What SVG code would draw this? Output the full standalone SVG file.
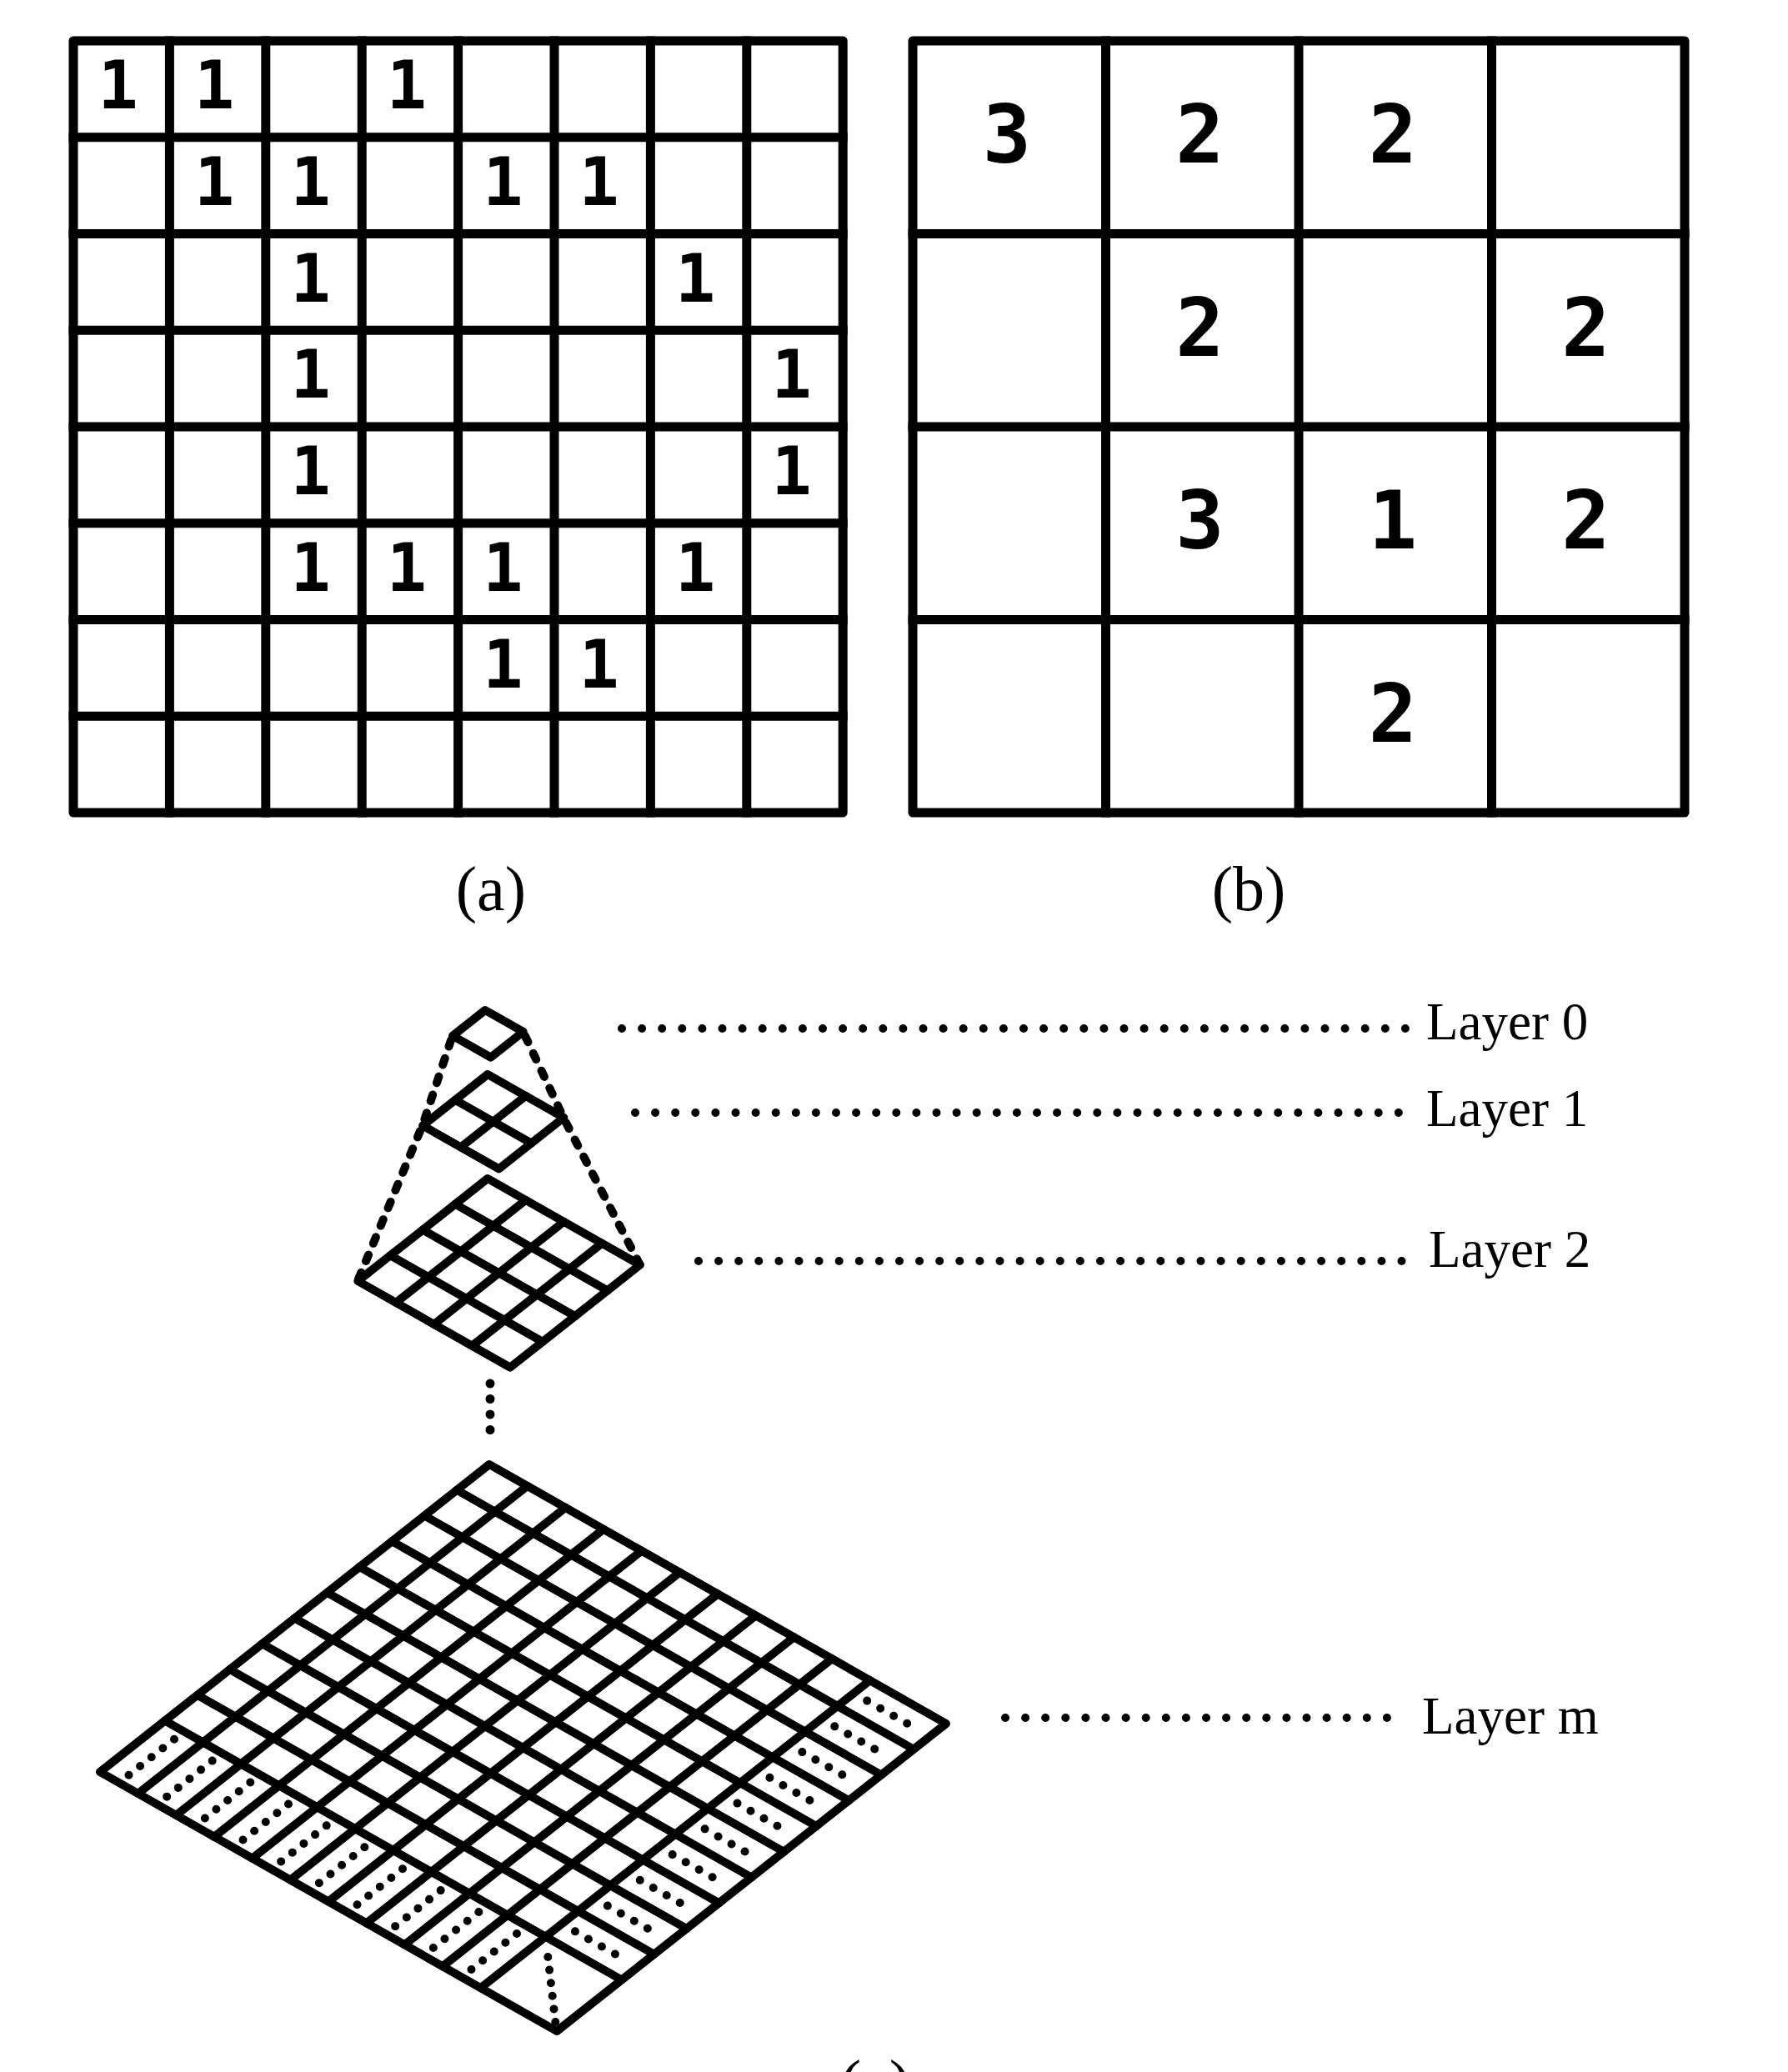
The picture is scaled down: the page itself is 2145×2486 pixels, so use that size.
<svg xmlns="http://www.w3.org/2000/svg" xmlns:xlink="http://www.w3.org/1999/xlink" width="2145" height="2486" viewBox="0 0 2145 2486">
<style>
.grid{fill:none;stroke:#000;stroke-width:11;stroke-linejoin:round;stroke-linecap:square}
.iso{fill:none;stroke:#000;stroke-width:10;stroke-linejoin:round;stroke-linecap:round}
.dig1{font-family:"DejaVu Sans Mono",monospace;font-weight:bold;font-size:80px;text-anchor:middle;fill:#000}
.dig2{font-family:"DejaVu Sans Mono",monospace;font-weight:bold;font-size:97px;text-anchor:middle;fill:#000}
.cap{font-family:"Liberation Serif","Times New Roman",serif;font-size:76px;text-anchor:middle;fill:#000}
.lbl{font-family:"Liberation Serif","Times New Roman",serif;font-size:63px;fill:#000}
.lead{fill:none;stroke:#000;stroke-width:10;stroke-linecap:round;stroke-dasharray:0 24.1}
.dash{fill:none;stroke:#000;stroke-width:10;stroke-linecap:round;stroke-dasharray:8 15}
.dotr{fill:none;stroke:#000;stroke-width:10;stroke-linecap:round;stroke-dasharray:0 18.38}
.dotl{fill:none;stroke:#000;stroke-width:10;stroke-linecap:round;stroke-dasharray:0 17.36}
.vdot{fill:none;stroke:#000;stroke-width:11;stroke-linecap:round;stroke-dasharray:0 18.5}
.cdot{fill:none;stroke:#000;stroke-width:10;stroke-linecap:round;stroke-dasharray:0 15.7}
</style>
<defs>
<line id="dr" class="dotr" x1="1040.19" y1="2040.62" x2="1104.13" y2="2076.9"/>
<line id="dl" class="dotl" x1="208.99" y1="2086.69" x2="154.5" y2="2129.74"/>
</defs>
<rect width="2145" height="2486" fill="#fff"/>

<g id="grid-a">
<rect class="grid" x="88" y="49" width="923.2" height="926"/>
<path class="grid" d="M203.4 49V975M318.8 49V975M434.2 49V975M549.6 49V975M665 49V975M780.4 49V975M895.8 49V975M88 164.75H1011.2M88 280.5H1011.2M88 396.25H1011.2M88 512H1011.2M88 627.75H1011.2M88 743.5H1011.2M88 859.25H1011.2"/>
<g class="dig1">
<text x="141.7" y="130">1</text><text x="257.1" y="130">1</text><text x="487.9" y="130">1</text>
<text x="257.1" y="245.75">1</text><text x="372.5" y="245.75">1</text><text x="603.3" y="245.75">1</text><text x="718.7" y="245.75">1</text>
<text x="372.5" y="361.5">1</text><text x="834.1" y="361.5">1</text>
<text x="372.5" y="477.25">1</text><text x="949.5" y="477.25">1</text>
<text x="372.5" y="593">1</text><text x="949.5" y="593">1</text>
<text x="372.5" y="708.75">1</text><text x="487.9" y="708.75">1</text><text x="603.3" y="708.75">1</text><text x="834.1" y="708.75">1</text>
<text x="603.3" y="824.5">1</text><text x="718.7" y="824.5">1</text>
</g>
</g>

<g id="grid-b">
<rect class="grid" x="1095" y="49" width="926" height="926"/>
<path class="grid" d="M1326.5 49V975M1558 49V975M1789.5 49V975M1095 280.5H2021M1095 512H2021M1095 743.5H2021"/>
<g class="dig2">
<text x="1208" y="195">3</text><text x="1439.5" y="195">2</text><text x="1671" y="195">2</text>
<text x="1439.5" y="426.5">2</text><text x="1902.5" y="426.5">2</text>
<text x="1439.5" y="658">3</text><text x="1671" y="658">1</text><text x="1902.5" y="658">2</text>
<text x="1671" y="889.5">2</text>
</g>
</g>

<text id="label-a" class="cap" x="589" y="1092">(a)</text>
<text id="label-b" class="cap" x="1498" y="1092">(b)</text>

<g id="layer-0">
<path class="iso" d="M582 1212L627.67 1237.92L588.75 1268.67L543.08 1242.75Z"/>
</g>
<g id="layer-1">
<path class="iso" d="M585 1289L676.33 1340.83L598.5 1402.33L507.17 1350.5Z"/>
<path class="iso" d="M630.67 1314.92L552.83 1376.42M546.08 1319.75L637.42 1371.58"/>
</g>
<g id="layer-2">
<path class="iso" d="M585 1414L767.67 1517.67L612 1640.67L429.33 1537Z"/>
<path class="iso" d="M630.67 1439.92L475 1562.92M676.33 1465.83L520.67 1588.83M722 1491.75L566.33 1614.75M546.08 1444.75L728.75 1548.42M507.17 1475.5L689.83 1579.17M468.25 1506.25L650.92 1609.92"/>
</g>
<g id="layer-m">
<path class="iso" d="M587 1757L1135 2068L668 2437L120 2126Z"/>
<path class="iso" d="M632.67 1782.92L165.67 2151.92M678.33 1808.83L211.33 2177.83M724 1834.75L257 2203.75M769.67 1860.67L302.67 2229.67M815.33 1886.58L348.33 2255.58M861 1912.5L394 2281.5M906.67 1938.42L439.67 2307.42M952.33 1964.33L485.33 2333.33M998 1990.25L531 2359.25M1043.67 2016.17L576.67 2385.17"/>
<path class="iso" d="M548.08 1787.75L1096.08 2098.75M509.17 1818.5L1057.17 2129.5M470.25 1849.25L1018.25 2160.25M431.33 1880L979.33 2191M392.42 1910.75L940.42 2221.75M353.5 1941.5L901.5 2252.5M314.58 1972.25L862.58 2283.25M275.67 2003L823.67 2314M236.75 2033.75L784.75 2344.75M197.83 2064.5L745.83 2375.5"/>
<use href="#dr"/>
<use href="#dr" x="-38.917" y="30.75"/>
<use href="#dr" x="-77.833" y="61.5"/>
<use href="#dr" x="-116.75" y="92.25"/>
<use href="#dr" x="-155.667" y="123"/>
<use href="#dr" x="-194.583" y="153.75"/>
<use href="#dr" x="-233.5" y="184.5"/>
<use href="#dr" x="-272.417" y="215.25"/>
<use href="#dr" x="-311.333" y="246"/>
<use href="#dr" x="-350.25" y="276.75"/>
<use href="#dl"/>
<use href="#dl" x="45.667" y="25.917"/>
<use href="#dl" x="91.333" y="51.833"/>
<use href="#dl" x="137" y="77.75"/>
<use href="#dl" x="182.667" y="103.667"/>
<use href="#dl" x="228.333" y="129.583"/>
<use href="#dl" x="274" y="155.5"/>
<use href="#dl" x="319.667" y="181.417"/>
<use href="#dl" x="365.333" y="207.333"/>
<use href="#dl" x="411" y="233.25"/>
<line class="cdot" x1="657.3" y1="2348" x2="666.3" y2="2426"/>
</g>

<g id="connectors">
<line class="dash" x1="541" y1="1248" x2="507" y2="1350"/>
<line class="dash" x1="630" y1="1243" x2="676" y2="1341"/>
<line class="dash" x1="504" y1="1357" x2="429" y2="1537"/>
<line class="dash" x1="679" y1="1347" x2="768" y2="1518"/>
<line class="vdot" x1="588" y1="1660" x2="588" y2="1734"/>
<line class="lead" x1="746" y1="1234" x2="1685.9" y2="1234"/>
<line class="lead" x1="762" y1="1335" x2="1677.8" y2="1335"/>
<line class="lead" x1="838" y1="1513" x2="1681.5" y2="1513"/>
<line class="lead" x1="1206" y1="2061" x2="1663.9" y2="2061"/>
</g>

<text id="label-l0" class="lbl" x="1711" y="1247">Layer 0</text>
<text id="label-l1" class="lbl" x="1711" y="1351">Layer 1</text>
<text id="label-l2" class="lbl" x="1714" y="1520">Layer 2</text>
<text id="label-lm" class="lbl" x="1706" y="2080">Layer m</text>
<text id="label-c" class="cap" x="1050" y="2524">(c)</text>
</svg>
